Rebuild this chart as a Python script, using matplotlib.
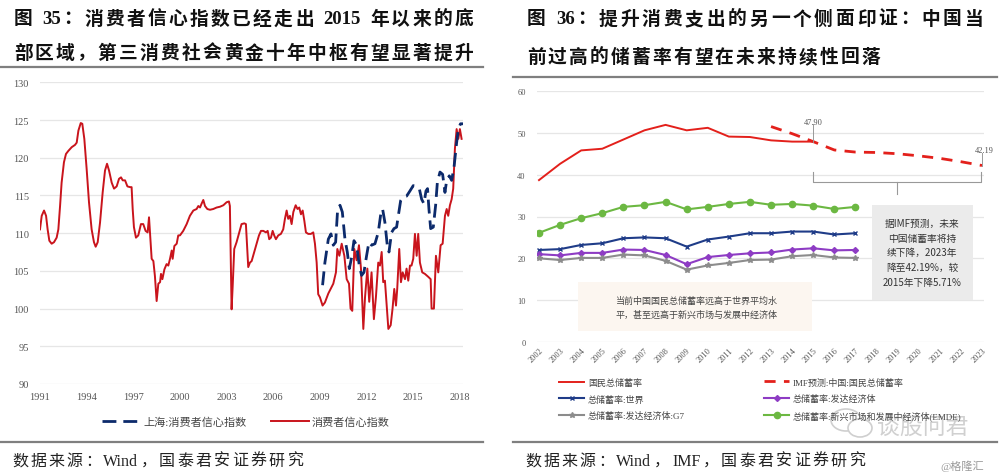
import re
import matplotlib
matplotlib.use('Agg')
import matplotlib.pyplot as plt
from matplotlib.lines import Line2D
from matplotlib.patches import Rectangle, Ellipse

plt.rcParams['font.family'] = ['Liberation Serif', 'Noto Sans CJK SC', 'DejaVu Sans']

# ---------------- data: left chart (consumer confidence index) ----------------
cci_years = [1991.0, 1991.11, 1991.26, 1991.39, 1991.49, 1991.6, 1991.75, 1991.9, 1992.07, 1992.18,
             1992.29, 1992.39, 1992.54, 1992.67, 1992.82, 1993.04, 1993.25, 1993.36, 1993.47, 1993.62,
             1993.72, 1993.85, 1994.0, 1994.15, 1994.32, 1994.47, 1994.58, 1994.71, 1994.86, 1995.03,
             1995.18, 1995.31, 1995.44, 1995.61, 1995.76, 1995.93, 1996.08, 1996.21, 1996.32, 1996.47,
             1996.62, 1996.79, 1996.89, 1996.96, 1997.04, 1997.17, 1997.32, 1997.49, 1997.64, 1997.79,
             1997.92, 1998.01, 1998.07, 1998.18, 1998.29, 1998.39, 1998.5, 1998.61, 1998.72, 1998.78,
             1998.87, 1999.0, 1999.14, 1999.25, 1999.36, 1999.47, 1999.53, 1999.64, 1999.79, 1999.89,
             2000.0, 2000.21, 2000.43, 2000.64, 2000.86, 2001.07, 2001.18, 2001.29, 2001.39, 2001.5,
             2001.61, 2001.76, 2001.93, 2002.14, 2002.36, 2002.57, 2002.79, 2003.0, 2003.15, 2003.21,
             2003.26, 2003.32, 2003.39, 2003.49, 2003.64, 2003.81, 2003.96, 2004.14, 2004.24, 2004.33,
             2004.39, 2004.5, 2004.61, 2004.76, 2004.93, 2005.08, 2005.21, 2005.36, 2005.53, 2005.64,
             2005.74, 2005.85, 2005.96, 2006.06, 2006.17, 2006.32, 2006.49, 2006.64, 2006.75, 2006.86,
             2006.96, 2007.07, 2007.18, 2007.29, 2007.44, 2007.56, 2007.67, 2007.78, 2007.89, 2008.0,
             2008.1, 2008.25, 2008.42, 2008.57, 2008.68, 2008.79, 2008.89, 2009.0, 2009.17, 2009.32,
             2009.54, 2009.69, 2009.86, 2010.03, 2010.12, 2010.25, 2010.4, 2010.57, 2010.72, 2010.87,
             2010.97, 2011.08, 2011.21, 2011.36, 2011.51, 2011.64, 2011.79, 2011.9, 2012.05, 2012.17,
             2012.32, 2012.47, 2012.6, 2012.75, 2012.86, 2012.97, 2013.07, 2013.18, 2013.29, 2013.4,
             2013.55, 2013.67, 2013.78, 2013.89, 2013.97, 2014.1, 2014.21, 2014.32, 2014.47, 2014.57,
             2014.68, 2014.79, 2014.89, 2015.0, 2015.11, 2015.22, 2015.32, 2015.43, 2015.58, 2015.75,
             2015.97, 2016.12, 2016.18, 2016.33, 2016.46, 2016.61, 2016.76, 2016.89, 2017.04, 2017.15,
             2017.25, 2017.36, 2017.47, 2017.57, 2017.68, 2017.79, 2017.9, 2018.0, 2018.11]
cci_values = [110.5, 112.3, 113.0, 112.3, 110.5, 109.0, 108.6, 108.8, 109.4, 110.5,
              113.6, 116.7, 119.4, 120.5, 120.9, 121.4, 121.7, 122.0, 123.6, 124.6,
              124.5, 122.5, 118.5, 114.1, 110.5, 108.8, 108.2, 108.8, 111.4, 115.4,
              118.3, 119.2, 118.3, 116.7, 115.9, 116.2, 117.2, 117.4, 117.0, 117.0,
              116.2, 116.1, 116.1, 113.2, 110.8, 109.4, 109.7, 111.2, 111.2, 110.3,
              110.1, 112.1, 110.1, 106.6, 106.3, 104.3, 101.0, 103.3, 103.5, 104.6,
              103.9, 105.2, 105.9, 105.7, 106.6, 107.7, 106.6, 108.3, 108.6, 109.7,
              109.7, 110.3, 111.2, 112.3, 113.0, 113.2, 113.6, 113.4, 113.9, 114.4,
              113.6, 113.2, 113.1, 113.2, 113.4, 113.5, 113.7, 114.1, 114.2, 113.6,
              107.4, 99.9, 103.0, 107.9, 108.8, 110.1, 111.2, 111.3, 111.2, 107.9,
              105.5, 106.1, 106.3, 107.4, 108.6, 109.7, 110.3, 110.3, 110.1, 110.3,
              109.2, 109.4, 110.3, 109.7, 109.2, 109.7, 109.9, 110.5, 111.9, 113.0,
              111.9, 112.3, 111.2, 112.8, 113.7, 113.2, 113.4, 112.5, 113.0, 111.6,
              110.1, 109.9, 109.9, 110.1, 108.6, 106.1, 101.9, 101.5, 100.4, 100.8,
              102.0, 102.6, 103.3, 104.8, 107.9, 107.0, 108.6, 107.0, 103.9, 103.3,
              100.0, 99.7, 107.9, 106.4, 108.4, 105.3, 97.3, 101.5, 105.3, 100.9,
              104.8, 98.6, 101.5, 106.1, 105.7, 107.5, 103.5, 103.7, 100.4, 97.3,
              97.8, 100.0, 102.6, 100.4, 102.6, 107.9, 103.5, 104.8, 103.9, 105.3,
              103.7, 105.7, 105.7, 106.6, 109.9, 107.0, 109.9, 106.1, 104.8, 104.6,
              104.2, 103.9, 100.0, 100.0, 107.0, 104.8, 108.4, 108.6, 112.3, 113.2,
              112.3, 113.7, 114.5, 115.9, 121.2, 123.8, 122.5, 123.8, 122.5]

sh_years = [2009.17, 2009.32, 2009.54, 2009.71, 2009.86, 2010.01, 2010.14, 2010.29, 2010.44, 2010.61,
            2010.76, 2010.89, 2011.04, 2011.19, 2011.36, 2011.53, 2011.68, 2011.83, 2012.0, 2012.15,
            2012.32, 2012.54, 2012.75, 2012.93, 2013.03, 2013.18, 2013.33, 2013.44, 2013.61, 2013.76,
            2013.93, 2014.04, 2014.19, 2014.36, 2014.57, 2014.79, 2015.0, 2015.22, 2015.39, 2015.54,
            2015.69, 2015.82, 2015.92, 2016.01, 2016.12, 2016.29, 2016.44, 2016.55, 2016.72, 2016.89,
            2017.04, 2017.15, 2017.32, 2017.47, 2017.62, 2017.79, 2017.9, 2018.04, 2018.22]
sh_values = [103.1, 106.1, 109.2, 109.9, 108.4, 108.8, 113.2, 113.7, 112.8, 109.2,
             107.5, 105.3, 106.8, 109.0, 108.4, 105.7, 104.4, 104.8, 107.0, 108.8,
             108.4, 108.6, 110.1, 112.8, 113.2, 111.4, 108.4, 107.5, 110.1, 110.6,
             110.8, 112.3, 114.3, 114.8, 114.9, 115.6, 116.3, 116.2, 115.9, 114.5,
             113.9, 115.6, 115.9, 113.2, 110.6, 110.8, 113.7, 116.7, 118.1, 117.8,
             115.4, 117.0, 117.6, 117.0, 118.7, 122.0, 123.8, 124.5, 124.5]

left_yticks = [90, 95, 100, 105, 110, 115, 120, 125, 130]
left_xticks = [1991, 1994, 1997, 2000, 2003, 2006, 2009, 2012, 2015, 2018]

# ---------------- data: right chart (saving rates) ----------------
years_all = list(range(2002, 2024))
years_hist = list(range(2002, 2018))
years_cn = list(range(2002, 2016))
years_imf = list(range(2013, 2024))
cn_saving = [38.7, 42.6, 45.8, 46.2, 48.4, 50.6, 51.9, 50.6, 51.2, 49.1, 49.0, 48.2, 47.9, 47.9]
imf_saving = [51.5, 49.8, 47.9, 45.9, 45.4, 45.3, 45.0, 44.5, 43.9, 43.1, 42.19]
world = [22.0, 22.2, 23.2, 23.6, 24.8, 25.0, 24.8, 22.8, 24.5, 25.2, 26.0, 26.0, 26.4, 26.4, 25.7, 26.0]
advanced = [21.0, 20.7, 21.3, 21.3, 22.1, 22.0, 20.8, 18.6, 20.3, 20.8, 21.2, 21.4, 22.1, 22.4, 21.9, 22.0]
g7 = [20.0, 19.6, 20.1, 20.1, 20.9, 20.7, 19.4, 17.3, 18.3, 18.9, 19.6, 19.7, 20.5, 20.8, 20.2, 20.1]
emde = [26.1, 28.0, 29.6, 30.8, 32.3, 32.7, 33.5, 31.7, 32.3, 33.0, 33.5, 32.8, 33.0, 32.6, 31.8, 32.3]

W, H = 1000, 477
fig = plt.figure(figsize=(10, 4.77), dpi=100)
renderer = fig.canvas.get_renderer()


def fx(x):
    return x / W


def fy(y):
    return 1 - y / H


def justify(x0, x1, y, s, **kw):
    # spread the characters of a text line evenly between x0 and x1 (pixels)
    toks = re.findall(r'[A-Za-z0-9.%]+| |.', s)
    arts, widths = [], []
    for t in toks:
        if t == ' ':
            arts.append(None)
            widths.append(kw.get('fontsize', 12) * 0.35)
            continue
        a = fig.text(0, fy(y), t, ha='left', va='center', **kw)
        arts.append(a)
        widths.append(a.get_window_extent(renderer).width)
    gap = (x1 - x0 - sum(widths)) / (len(toks) - 1)
    pos = x0
    for a, w in zip(arts, widths):
        if a is not None:
            a.set_x(fx(pos))
        pos += w + gap


# ---------------- titles and frame lines ----------------
tkw = dict(fontsize=13.5, fontweight='bold', color='#111111')
justify(14, 473, 20, '图 35：消费者信心指数已经走出 2015 年以来的底', **tkw)
justify(14, 473, 54, '部区域，第三消费社会黄金十年中枢有望显著提升', **tkw)
justify(527, 983, 20, '图 36：提升消费支出的另一个侧面印证：中国当', **tkw)
justify(527, 880, 58, '前过高的储蓄率有望在未来持续性回落', **tkw)

for x0, x1, y in [(0, 483, 68), (513, 997, 78), (0, 483, 443), (513, 997, 443)]:
    fig.add_artist(Line2D([fx(x0), fx(x1)], [fy(y), fy(y)], color='#7f7f7f', lw=1.6))

skw = dict(fontsize=11.5, color='#222222')
justify(12, 303, 462, '数据来源：Wind，国泰君安证券研究', **skw)
justify(525, 865, 462, '数据来源：Wind，IMF，国泰君安证券研究', **skw)

# watermark
fig.add_artist(Ellipse((fx(846), fy(421)), fx(30), 22 / H, facecolor='none', edgecolor='#cfcfcf', lw=1.2))
fig.add_artist(Ellipse((fx(860), fy(429)), fx(24), 18 / H, facecolor='white', edgecolor='#cfcfcf', lw=1.2))
fig.text(fx(877), fy(428), '谈股问君', fontsize=16.5, va='center', color='#d0d0d0')
fig.text(fx(940), fy(466), '@格隆汇', fontsize=8, va='center', color='#9a9a9a')

# ---------------- left chart ----------------
axl = fig.add_axes([fx(40), fy(385), fx(463 - 40), (385 - 83.3) / H])
axl.plot(cci_years, cci_values, color='#c9141c', lw=1.4)
axl.plot(sh_years, sh_values, color='#0c2a6b', lw=2.0, dashes=(5, 2.5))
axl.set_xlim(1991, 2018.2)
axl.set_ylim(90, 130)
axl.set_yticks(left_yticks)
axl.set_xticks(left_xticks)
axl.grid(axis='y', color='#e6e6e6', lw=0.9)
axl.set_axisbelow(True)
for s in axl.spines.values():
    s.set_visible(False)
axl.tick_params(length=0, labelsize=7.5, colors='#555555', pad=8)
axl.tick_params(axis='x', pad=6)

leg_l = [Line2D([], [], color='#0c2a6b', lw=2.0, dashes=(5, 2.5)),
         Line2D([], [], color='#c9141c', lw=1.4)]
fig.legend(leg_l, ['上海:消费者信心指数', '消费者信心指数'], loc='center',
           bbox_to_anchor=(fx(246), fy(423)), ncol=2, frameon=False, fontsize=8,
           handlelength=3.4, columnspacing=2.2, handletextpad=0.3, labelcolor='#444444')

# ---------------- right chart ----------------
axr = fig.add_axes([fx(536.9), fy(343), fx(984.1 - 536.9), (343 - 92) / H])
l_cn, = axr.plot(years_cn, cn_saving, color='#e3201b', lw=1.4)
l_imf, = axr.plot(years_imf, imf_saving, color='#e3201b', lw=2.0, dashes=(4, 3))
l_w, = axr.plot(years_hist, world, color='#1f3c88', lw=1.5, marker='x', ms=3.5, mew=1.0)
l_a, = axr.plot(years_hist, advanced, color='#8e3cc4', lw=1.5, marker='D', ms=3)
l_g, = axr.plot(years_hist, g7, color='#8c8c8c', lw=1.5, marker='*', ms=4)
l_e, = axr.plot(years_hist, emde, color='#6cb842', lw=1.5, marker='o', ms=4.5)
axr.set_xlim(2001.9, 2023.1)
axr.set_ylim(0, 60)
axr.set_yticks(range(0, 61, 10))
axr.set_xticks(years_all)
axr.set_xticklabels([str(y) for y in years_all], rotation=45, ha='right', va='top',
                    rotation_mode='anchor')
axr.grid(axis='y', color='#e6e6e6', lw=0.9)
axr.set_axisbelow(True)
for s in axr.spines.values():
    s.set_visible(False)
axr.tick_params(length=0, labelsize=6, colors='#555555', pad=8)
axr.tick_params(axis='x', pad=3)

# value labels with leader lines
axr.plot([years_cn[-1]] * 2, [cn_saving[-1], 52.0], color='#999999', lw=0.7)
axr.text(years_cn[-1], 52.6, '%.2f' % cn_saving[-1], fontsize=6, ha='center', va='center', color='#555555')
axr.plot([years_imf[-1]] * 2, [imf_saving[-1], 45.2], color='#999999', lw=0.7, clip_on=False)
axr.text(years_imf[-1] + 0.1, 45.9, '%.2f' % imf_saving[-1], fontsize=6, ha='center', va='center',
         color='#555555', clip_on=False)

# bracket over forecast period
bx0, bx1 = years_cn[-1], years_imf[-1] - 0.05
axr.plot([bx0, bx0, bx1, bx1], [40.6, 38.3, 38.3, 40.6], color='#999999', lw=0.8, clip_on=False)
bxm = (bx0 + bx1) / 2
axr.plot([bxm, bxm], [38.3, 35.4], color='#999999', lw=0.8)

# annotation boxes
fig.add_artist(Rectangle((fx(872), fy(301)), fx(973 - 872), (301 - 206) / H,
                         facecolor='#ebebeb', edgecolor='none'))
box_lines = ['据IMF预测，未来', '中国储蓄率将持', '续下降，2023年', '降至42.19%，较', '2015年下降5.71%']
for i, t in enumerate(box_lines):
    fig.text(fx(922), fy(224 + 14.7 * i), t, fontsize=7, ha='center', va='center', color='#333333',
             family=['Noto Sans CJK SC', 'DejaVu Sans'])

fig.add_artist(Rectangle((fx(578), fy(332)), fx(812 - 578), (332 - 283) / H,
                         facecolor='#fcf6f0', edgecolor='none'))
fig.text(fx(697), fy(301), '当前中国国民总储蓄率远高于世界平均水', fontsize=6.5, ha='center', va='center',
         color='#444444')
fig.text(fx(697), fy(315), '平，甚至远高于新兴市场与发展中经济体', fontsize=6.5, ha='center', va='center',
         color='#444444')

# legend (two columns)
lkw = dict(loc='center left', frameon=False, fontsize=6.5, handlelength=2.8, handletextpad=0.4,
           labelspacing=0.85, labelcolor='#444444')
fig.legend([l_cn, l_w, l_g], ['国民总储蓄率', '总储蓄率:世界', '总储蓄率:发达经济体:G7'],
           bbox_to_anchor=(fx(551), fy(400)), **lkw)
fig.legend([l_imf, l_a, l_e], ['IMF预测:中国:国民总储蓄率', '总储蓄率:发达经济体',
                               '总储蓄率:新兴市场和发展中经济体(EMDE)'],
           bbox_to_anchor=(fx(756), fy(400)), **lkw)

fig.savefig('out.png', dpi=100)
